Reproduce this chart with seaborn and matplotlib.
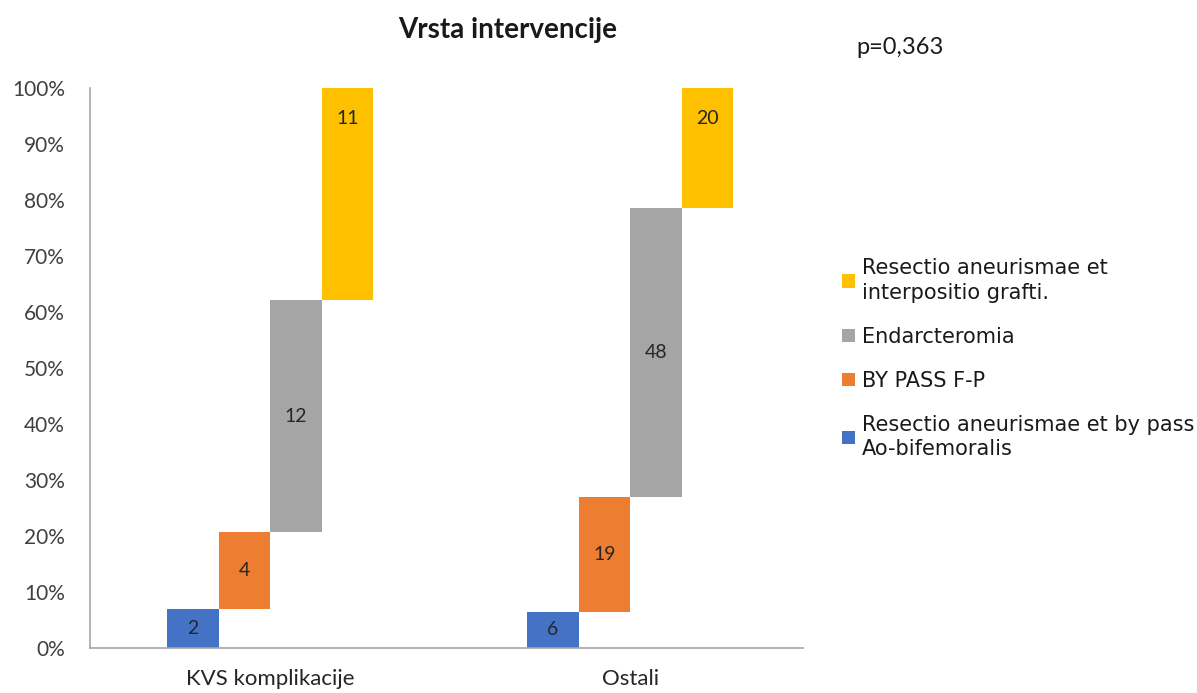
import numpy as np
import pandas as pd
import matplotlib
matplotlib.use("Agg")
import matplotlib.pyplot as plt
import seaborn as sns
from matplotlib.patches import Patch

groups = ["KVS komplikacije", "Ostali"]
series = ["Resectio aneurismae et by pass\nAo-bifemoralis",
          "BY PASS F-P",
          "Endarcteromia",
          "Resectio aneurismae et\ninterpositio grafti."]
counts_kvs = [2, 4, 12, 11]
counts_ostali = [6, 19, 48, 20]
colors = ["#4472C4", "#ED7D31", "#A5A5A5", "#FFC000"]
y_ticks = [0, 10, 20, 30, 40, 50, 60, 70, 80, 90, 100]

sns.set_theme(style="white")
plt.rcParams['font.family'] = ['Lato', 'DejaVu Sans']

rows = []
for g, counts in zip(groups, [counts_kvs, counts_ostali]):
    total = sum(counts)
    bottom = 0.0
    for s, c in zip(series, counts):
        pct = 100.0 * c / total
        rows.append({'group': g, 'series': s, 'count': c, 'pct': pct, 'bottom': bottom})
        bottom += pct
df = pd.DataFrame(rows)

fig = plt.figure(figsize=(11.97, 6.93), dpi=100)
ax = fig.add_axes([0.0752, 0.0649, 0.5958, 0.8082])

sns.barplot(data=df, x='group', y='pct', hue='series', hue_order=series,
            order=groups, palette=colors, width=4 / 7, gap=0, dodge=True,
            saturation=1, legend=False, ax=ax, errorbar=None)

# move each bar up to its stacked position and label it with the count
for i, (s, cont) in enumerate(zip(series, ax.containers)):
    sub = df[df['series'] == s].set_index('group')
    for g, bar in zip(groups, cont):
        b = sub.loc[g, 'bottom']
        h = sub.loc[g, 'pct']
        bar.set_y(b)
        bar.set_linewidth(0)
        # top series gets its label near the top end, the rest centred
        ty = b + h - 5.5 if i == len(series) - 1 else b + h / 2
        ax.text(bar.get_x() + bar.get_width() / 2, ty, str(sub.loc[g, 'count']),
                ha='center', va='center', fontsize=14, color='#262626')

ax.set_xlim(-0.5, 1.48)
ax.set_ylim(0, 100)
ax.set_yticks(y_ticks)
ax.set_yticklabels([f"{t}%" for t in y_ticks])
ax.tick_params(axis='y', labelsize=15, labelcolor='#404040', length=0, pad=18)
ax.tick_params(axis='x', labelsize=16, labelcolor='#262626', length=0, pad=15)
ax.set_xlabel('')
ax.set_ylabel('')
for side in ['top', 'right']:
    ax.spines[side].set_visible(False)
for side in ['left', 'bottom']:
    ax.spines[side].set_color('#A6A6A6')
    ax.spines[side].set_linewidth(1.2)

fig.text(508 / 1197, 1 - 30 / 693, "Vrsta intervencije", ha='center', va='center',
         fontsize=20, fontweight='bold', color='#1a1a1a')
fig.text(856 / 1197, 1 - 48 / 693, "p=0,363", ha='left', va='center',
         fontsize=17, color='#1a1a1a')

handles = [Patch(facecolor=c, edgecolor='none') for c in colors]
leg = fig.legend(handles[::-1], series[::-1], loc='upper left',
                 bbox_to_anchor=(842 / 1197, 1 - 258 / 693), frameon=False,
                 prop={'family': ['DejaVu Sans'], 'size': 15},
                 handlelength=0.6, handleheight=0.6, handletextpad=0.35,
                 labelspacing=1.15, borderpad=0, borderaxespad=0)
for t in leg.get_texts():
    t.set_color('#1a1a1a')
    t.set_linespacing(1.3)

fig.savefig("out.png", dpi=100)
